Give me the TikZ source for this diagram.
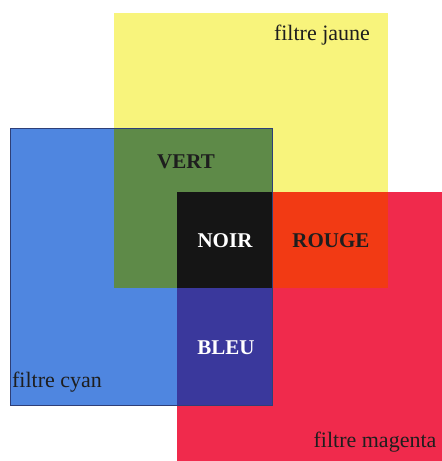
\documentclass[tikz,border=0pt]{standalone}
\usepackage{fontspec}
\setmainfont{Liberation Serif}
\definecolor{cYellow}{HTML}{F8F47C}
\definecolor{cCyan}{HTML}{4F86E0}
\definecolor{cMagenta}{HTML}{F02A4C}
\definecolor{cGreen}{HTML}{5E8A48}
\definecolor{cRed}{HTML}{F23A14}
\definecolor{cBlue}{HTML}{3A389C}
\definecolor{cBlack}{HTML}{151515}
\definecolor{cEdge}{HTML}{2E3F78}
\definecolor{cText}{HTML}{1E1E1E}
\begin{document}
\begin{tikzpicture}[x=1pt,y=1pt,
  filtlabel/.style={font=\fontsize{22}{24}\selectfont, text=cText, inner sep=0pt},
  mixlabel/.style={font=\fontsize{21}{23}\selectfont\bfseries, inner sep=0pt}]
\useasboundingbox (0,0) rectangle (442,461);
% filters
\fill[cYellow] (114,173) rectangle (388,448);
\fill[cCyan] (10,56) rectangle (272,333);
\fill[cMagenta] (177,0) rectangle (442,269);
% overlaps
\fill[cGreen] (114,173) rectangle (272,333);
\fill[cRed] (272,173) rectangle (388,269);
\fill[cBlue] (177,56) rectangle (272,173);
\fill[cBlack] (177,173) rectangle (272,269);
% cyan filter edge
\draw[cEdge, line width=0.7pt] (10,56) rectangle (272,333);
% labels
\node[filtlabel] (jaune) at (322,426) {filtre jaune};
\node[filtlabel] (cyan) at (57,79) {filtre cyan};
\node[filtlabel] (magenta) at (375,19) {filtre magenta};
\node[mixlabel, text=cText] (vert) at (186,299) {VERT};
\node[mixlabel, text=white] (noir) at (225,220) {NOIR};
\node[mixlabel, text=cText] (rouge) at (331,220) {ROUGE};
\node[mixlabel, text=white] (bleu) at (226,113) {BLEU};
\end{tikzpicture}
\end{document}
